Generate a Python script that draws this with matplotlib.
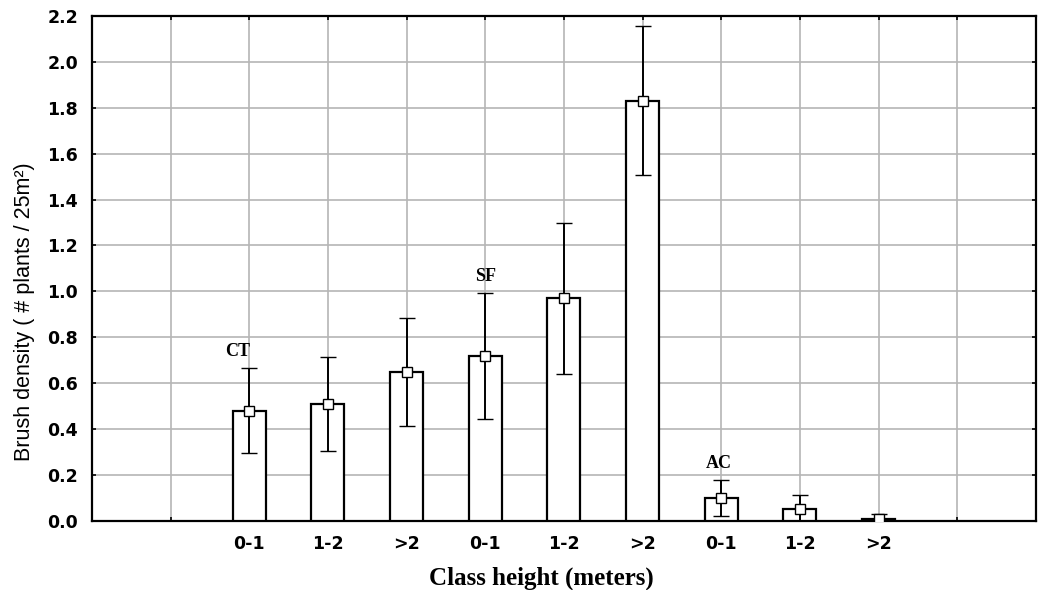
import matplotlib.pyplot as plt
import numpy as np

# data
classes = ["0-1", "1-2", ">2", "0-1", "1-2", ">2", "0-1", "1-2", ">2"]
groups = ["CT", "SF", "AC"]
group_dx = [-0.15, 0.0, -0.03]
density = [0.48, 0.51, 0.65, 0.72, 0.97, 1.83, 0.10, 0.05, 0.01]
err = [0.185, 0.205, 0.235, 0.275, 0.33, 0.325, 0.08, 0.065, 0.02]

x = np.arange(1, len(density) + 1)

fig = plt.figure(figsize=(10.39, 5.9), dpi=100)
ax = fig.add_axes([0.0885, 0.117, 0.9085, 0.856])

ax.bar(x, density, width=0.42, color="white", edgecolor="black", linewidth=1.6, zorder=3)
ax.errorbar(x, density, yerr=err, fmt="s", ms=7, mfc="white", mec="black", mew=1.0,
            ecolor="black", elinewidth=1.4, capsize=6, capthick=1.4, zorder=4)

# group labels above the first bar of each group
for i, g in enumerate(groups):
    k = i * 3
    ax.text(x[k] + group_dx[i], density[k] + err[k] + 0.035, g, ha="center", va="bottom",
            family="Liberation Serif", fontweight="bold", fontsize=13)

ax.set_xlim(-1, 11)
ax.set_ylim(0, 2.2)
ax.set_xticks(np.arange(0, 11))
ax.set_xticklabels([""] + classes + [""])
ax.set_yticks(np.arange(0, 2.21, 0.2))
ax.set_yticklabels(["%.1f" % v for v in np.arange(0, 2.21, 0.2)])
for lab in ax.get_xticklabels() + ax.get_yticklabels():
    lab.set_family("DejaVu Sans")
    lab.set_fontweight("bold")
    lab.set_fontsize(12.5)

ax.tick_params(direction="in", length=3, width=1.2, top=True, right=True, pad=10)
ax.grid(True, color="#b5b5b5", linewidth=1.2, zorder=0)
ax.set_axisbelow(True)
for s in ax.spines.values():
    s.set_linewidth(1.6)

ax.set_xlabel("Class height (meters)", family="Liberation Serif", fontweight="bold",
              fontsize=18, va="center")
ax.xaxis.set_label_coords(0.476, -0.113)
ax.set_ylabel("Brush density ( # plants / 25m²)", family="Liberation Sans",
              fontsize=15.5)
ax.yaxis.set_label_coords(-0.06, 0.415)

fig.savefig("out.png", dpi=100)
